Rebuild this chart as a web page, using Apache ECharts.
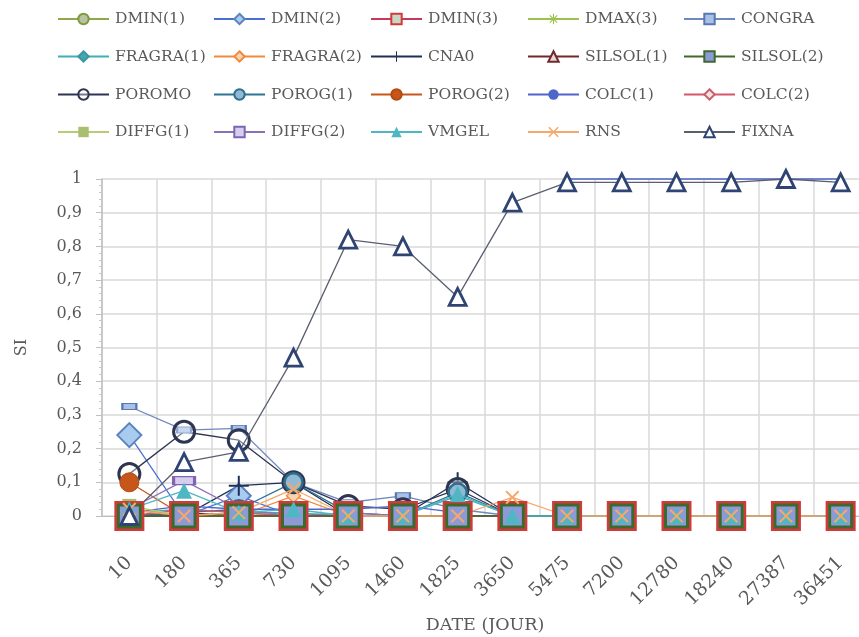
<!DOCTYPE html>
<html>
<head>
<meta charset="utf-8">
<script src="https://cdn.jsdelivr.net/npm/echarts@6/dist/echarts.min.js"></script>
<style>
  html, body { margin: 0; padding: 0; background: #ffffff; }
  #chart { width: 859px; height: 637px; }
</style>
</head>
<body>
<div id="chart"></div>
<script>
// Category axis: sampling dates in days
const dates = ['10', '180', '365', '730', '1095', '1460', '1825', '3650', '5475', '7200', '12780', '18240', '27387', '36451'];
const yTicks = [0, 0.1, 0.2, 0.3, 0.4, 0.5, 0.6, 0.7, 0.8, 0.9, 1];

// Sensitivity index (SI) per parameter
const dmin1   = [0.02, 0, 0.01, 0, 0, 0, 0, 0, 0, 0, 0, 0, 0, 0];
const dmin2   = [0.24, 0, 0.06, 0, 0, 0, 0, 0, 0, 0, 0, 0, 0, 0];
const dmin3   = [0, 0, 0, 0, 0, 0, 0, 0, 0, 0, 0, 0, 0, 0];
const dmax3   = [0.02, 0, 0, 0, 0, 0, 0, 0, 0, 0, 0, 0, 0, 0];
const congra  = [0.325, 0.255, 0.26, 0.1, 0.04, 0.06, 0.02, 0, 0, 0, 0, 0, 0, 0];
const fragra1 = [0.01, 0.02, 0.01, 0.01, 0, 0, 0.06, 0, 0, 0, 0, 0, 0, 0];
const fragra2 = [0, 0, 0, 0.06, 0, 0, 0, 0, 0, 0, 0, 0, 0, 0];
const cna0    = [0, 0, 0.09, 0.1, 0, 0, 0.1, 0, 0, 0, 0, 0, 0, 0];
const silsol1 = [0, 0.01, 0, 0, 0, 0, 0, 0, 0, 0, 0, 0, 0, 0];
const silsol2 = [0, 0, 0, 0, 0, 0, 0, 0, 0, 0, 0, 0, 0, 0];
const poromo  = [0.125, 0.25, 0.225, 0.1, 0.03, 0.02, 0.08, 0, 0, 0, 0, 0, 0, 0];
const porog1  = [0, 0.01, 0.02, 0.1, 0.01, 0, 0.07, 0, 0, 0, 0, 0, 0, 0];
const porog2  = [0.1, 0, 0, 0, 0, 0, 0, 0, 0, 0, 0, 0, 0, 0];
const colc1   = [0.01, 0.03, 0.02, 0.02, 0.02, 0.03, 0.01, null, 1, 1, 1, 1, 1, 1];
const colc2   = [0, 0.02, 0.01, 0, 0, 0, 0, 0, 0, 0, 0, 0, 0, 0];
const diffg1  = [0.03, 0, 0, 0, 0, 0, 0, 0, 0, 0, 0, 0, 0, 0];
const diffg2  = [0.02, 0.105, 0.02, 0, 0.01, 0, 0, 0, 0, 0, 0, 0, 0, 0];
const vmgel   = [0.02, 0.075, 0.01, 0.02, 0, 0, 0.065, 0, 0, 0, 0, 0, 0, 0];
const rns     = [0.02, 0, 0.01, 0.08, 0, 0, 0, 0.055, 0, 0, 0, 0, 0, 0];
const fixna   = [0, 0.16, 0.19, 0.47, 0.82, 0.8, 0.65, 0.93, 0.99, 0.99, 0.99, 0.99, 1, 0.99];

const FONT = 'DejaVu Serif';
const TEXT = '#595959';

const PLUS = 'path://M9,0h2v9h9v2h-9v9h-2v-9h-9v-2h9Z';
const STAR = 'path://M9,0h2v7.6l5.4-5.4 1.4 1.4L12.4,9H20v2h-7.6l5.4,5.4-1.4,1.4L11,12.4V20H9v-7.6l-5.4,5.4-1.4-1.4L7.6,11H0V9h7.6L2.2,3.6l1.4-1.4L9,7.6Z';
const CROSS = 'path://M2,0L10,8L18,0L20,2L12,10L20,18L18,20L10,12L2,20L0,18L8,10L0,2Z';

// name, values, line colour, symbol, size, fill, border colour, border width, layer
const defs = [
  ['DMIN(1)',   dmin1,   '#8FA84A', 'circle',   14, '#B9C4A2', '#7E9A3E', 2, 2],
  ['DMIN(2)',   dmin2,   '#4A6FD0', 'diamond',  24, '#A9CBEF', '#5B84BE', 2, 2],
  ['DMIN(3)',   dmin3,   '#C8385A', 'rect',     27, '#C9D6C4', '#D23A3A', 3, 3],
  ['DMAX(3)',   dmax3,   '#9BC24A', STAR,       13, '#9BC24A', '#9BC24A', 0, 2],
  ['CONGRA',    congra,  '#6F88C0', 'rect',     [14, 6], '#A9C0E8', '#5878B0', 1.5, 2],
  ['FRAGRA(1)', fragra1, '#3FAFB8', 'diamond',  16, '#45A6B0', '#3A96A0', 1, 2],
  ['FRAGRA(2)', fragra2, '#F28A3C', 'diamond',  14, '#F5D3B5', '#F28A3C', 1.5, 2],
  ['CNA0',      cna0,    '#1F2F55', PLUS,       20, '#1F2F55', '#1F2F55', 0, 2],
  ['SILSOL(1)', silsol1, '#6E2B2B', 'triangle', 16, '#E8D6D6', '#6E2B2B', 2, 2],
  ['SILSOL(2)', silsol2, '#3F6B2A', 'rect',     22, '#8E9AD8', '#3C6A2C', 3, 3],
  ['POROMO',    poromo,  '#2E3550', 'circle',   21, 'rgba(255,255,255,0.35)', '#2E3550', 3, 2],
  ['POROG(1)',  porog1,  '#2F7393', 'circle',   18, '#8FB9D4', '#2F6E8C', 2.5, 2],
  ['POROG(2)',  porog2,  '#C7561A', 'circle',   19, '#C7561A', '#B34A12', 1, 2],
  ['COLC(1)',   colc1,   '#4E66C8', 'circle',   5,  '#4E66C8', '#4E66C8', 0, 2],
  ['COLC(2)',   colc2,   '#D4576A', 'diamond',  12, '#F1E3E3', '#C8606A', 1.5, 2],
  ['DIFFG(1)',  diffg1,  '#B7CC74', 'rect',     14, '#A8BE70', '#A8BE70', 0, 2],
  ['DIFFG(2)',  diffg2,  '#8A72B8', 'rect',     [21, 8], '#D7CDEE', '#7E66B0', 2, 2],
  ['VMGEL',     vmgel,   '#4FB7C4', 'triangle', 16, '#4FB7C4', '#4FB7C4', 0, 3],
  ['RNS',       rns,     '#F5A86A', CROSS,      14, '#F5A86A', '#F5A86A', 0, 3],
  ['FIXNA',     fixna,   '#5A5F70', 'triangle', 17, '#FFFFFF', '#2F4472', 2.8, 3]
];

const series = defs.map(([name, data, line, symbol, size, fill, border, bw, z]) => ({
  name,
  type: 'line',
  z,
  data,
  symbol,
  symbolSize: size,
  showAllSymbol: true,
  connectNulls: false,
  clip: false,
  lineStyle: { color: line, width: 1.3 },
  itemStyle: { color: fill, borderColor: border, borderWidth: bw },
  emphasis: { disabled: true },
  animation: false
}));

// One legend block per entry, laid out on a 5-column grid
const colX = [57, 213, 370, 527, 683];
const rowY = [20, 57.5, 95.5, 133];
const legends = defs.map((d, i) => ({
  data: [d[0]],
  left: colX[i % 5],
  top: rowY[Math.floor(i / 5)] - 9,
  padding: 0,
  itemWidth: 51,
  itemHeight: 13,
  selectedMode: false,
  textStyle: { fontFamily: FONT, fontSize: 15.5, color: TEXT, padding: [0, 0, 0, 1] }
}));

const chart = echarts.init(document.getElementById('chart'), null, { renderer: 'canvas' });
chart.setOption({
  backgroundColor: '#ffffff',
  animation: false,
  legend: legends,
  grid: {
    left: 102, top: 179, width: 766, height: 337,
    containLabel: false,
    outerBoundsMode: 'none'
  },
  xAxis: {
    type: 'category',
    data: dates,
    boundaryGap: true,
    name: 'DATE (JOUR)',
    nameLocation: 'middle',
    nameGap: 97,
    nameTextStyle: { fontFamily: FONT, fontSize: 17.5, color: TEXT },
    axisLine: { show: true, lineStyle: { color: '#BFBFBF', width: 1 } },
    axisTick: { show: false },
    axisLabel: { rotate: 45, margin: 44, fontFamily: FONT, fontSize: 19, color: TEXT },
    splitLine: { show: true, lineStyle: { color: '#D9D9D9', width: 1.5 } }
  },
  yAxis: {
    type: 'value',
    min: yTicks[0],
    max: yTicks[yTicks.length - 1],
    interval: 0.1,
    name: 'SI',
    nameLocation: 'middle',
    nameGap: 72,
    nameTextStyle: { fontFamily: FONT, fontSize: 16, color: TEXT },
    axisLine: { show: true, lineStyle: { color: '#BFBFBF', width: 1.5 } },
    axisTick: { show: true, length: 6, lineStyle: { color: '#BFBFBF' } },
    minorTick: { show: true, splitNumber: 5, length: 3, lineStyle: { color: '#C8C8C8' } },
    axisLabel: {
      margin: 20,
      fontFamily: FONT,
      fontSize: 16,
      color: TEXT,
      formatter: v => String(Math.round(v * 10) / 10).replace('.', ',')
    },
    splitLine: { show: true, lineStyle: { color: '#D9D9D9', width: 1.5 } }
  },
  series
});
</script>
</body>
</html>
